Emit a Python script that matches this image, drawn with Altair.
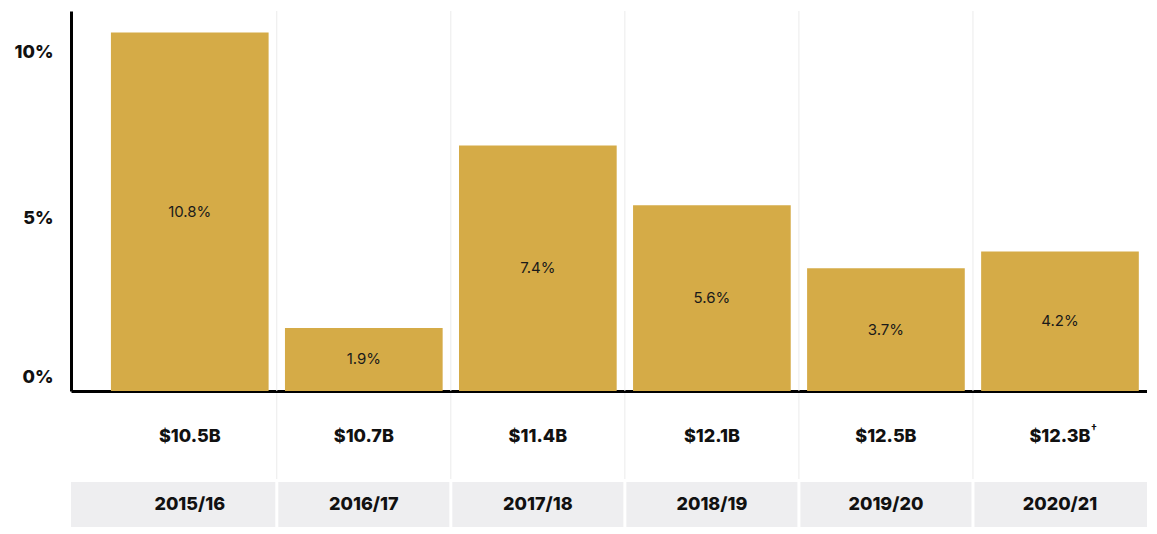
import altair as alt
import pandas as pd

years = ["2015/16", "2016/17", "2017/18", "2018/19", "2019/20", "2020/21"]
growth = [10.8, 1.9, 7.4, 5.6, 3.7, 4.2]
totals = ["$10.5B", "$10.7B", "$11.4B", "$12.1B", "$12.5B", "$12.3B"]
notes = ["", "", "", "", "", "†"]

GOLD = "#D5AB47"
GRAY = "#EEEEF0"
SEP = "#EBEBEB"
FONT = "Inter"
W = 1076

df = pd.DataFrame({
    "year": years,
    "growth": growth,
    "label": [f"{g}%" for g in growth],
    "total": totals,
    "note": notes,
})
seps = pd.DataFrame({"year": years[1:]})

xscale = alt.Scale(domain=years, paddingInner=0, paddingOuter=0.0912, align=1)
xnone = alt.Axis(labels=False, ticks=False, domain=False, grid=False, title=None)
xbase = alt.Axis(labels=False, ticks=False, grid=False, title=None,
                 domain=True, domainColor="black", domainWidth=3)


def sep_layer(h, color, width, axis):
    return alt.Chart(seps).mark_rule(color=color, strokeWidth=width).encode(
        x=alt.X("year:N", scale=xscale, axis=axis, bandPosition=0),
        y=alt.value(0),
        y2=alt.value(h),
    )


# ---- main bar panel ----
H1 = 380
bars = alt.Chart(df).mark_bar(color=GOLD, width=alt.RelativeBandSize(0.906)).encode(
    x=alt.X("year:N", scale=xscale, axis=xbase),
    y=alt.Y("growth:Q", scale=alt.Scale(domain=[0, 11.45], nice=False),
            axis=alt.Axis(values=[0, 5, 10], labelExpr="datum.value + '%'",
                          title=None, grid=False, ticks=False,
                          domain=True, domainColor="black", domainWidth=3,
                          labelFont=FONT, labelFontWeight=800, labelFontSize=18,
                          labelColor="#111111", labelPadding=18,
                          labelOffset={"condition": {"test": "datum.value === 0", "value": -14},
                                       "value": -7},
                          minExtent=58, maxExtent=58)),
)
bar_text = alt.Chart(df).transform_calculate(mid="datum.growth / 2").mark_text(
    font=FONT, fontSize=15, color="#1a1a1a", baseline="middle"
).encode(
    x=alt.X("year:N", scale=xscale, axis=xbase),
    y=alt.Y("mid:Q"),
    text="label:N",
)
main = alt.layer(sep_layer(H1, SEP, 1, xbase), bars, bar_text).properties(width=W, height=H1)

# ---- totals row ----
H2 = 86
tot_text = alt.Chart(df).mark_text(
    font=FONT, fontSize=18, fontWeight=800, color="#111111", baseline="middle"
).encode(
    x=alt.X("year:N", scale=xscale, axis=xnone),
    y=alt.value(44),
    text="total:N",
)
note_text = alt.Chart(df).mark_text(
    font=FONT, fontSize=11, fontWeight="bold", color="#111111", baseline="middle", dx=34, dy=-8
).encode(
    x=alt.X("year:N", scale=xscale, axis=xnone),
    y=alt.value(44),
    text="note:N",
)
row2 = alt.layer(sep_layer(H2, SEP, 1, xnone), tot_text, note_text).properties(width=W, height=H2)

# ---- years row ----
H3 = 45
band = alt.Chart(pd.DataFrame({"k": [0]})).mark_rect(color=GRAY).encode(
    x=alt.value(0), x2=alt.value(W), y=alt.value(0), y2=alt.value(H3)
)
year_text = alt.Chart(df).mark_text(
    font=FONT, fontSize=18, fontWeight=800, color="#111111", baseline="middle"
).encode(
    x=alt.X("year:N", scale=xscale, axis=xnone),
    y=alt.value(H3 / 2),
    text="year:N",
)
row3 = alt.layer(band, sep_layer(H3, "white", 3, xnone), year_text).properties(width=W, height=H3)

chart = alt.vconcat(main, row2, row3, spacing=0).properties(
    padding={"left": 5, "top": 2, "right": 0, "bottom": 2}
).configure_view(stroke=None).configure_concat(spacing=0)

chart.save("out.html", embed_options={"renderer": "svg", "actions": False})
